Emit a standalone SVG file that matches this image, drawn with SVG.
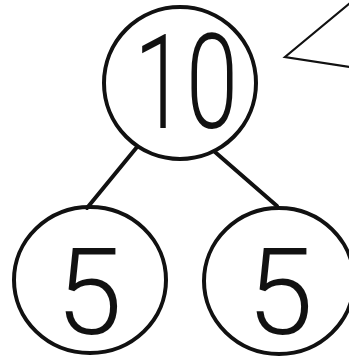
<svg xmlns="http://www.w3.org/2000/svg" width="349" height="363" viewBox="0 0 349 363">
<style>
.node{fill:none;stroke:#111;stroke-width:4}
.edge{stroke:#111;stroke-width:4;fill:none;stroke-linecap:round}
.num{font-family:Roboto,Lato,Inter,"DejaVu Sans",sans-serif;font-weight:300;fill:#111;text-anchor:middle}
.bubble{fill:none;stroke:#111;stroke-width:2.2;stroke-linejoin:miter}
</style>
<rect width="349" height="363" fill="#fff"/>
<g id="connectors">
<line class="edge" x1="137" y1="147" x2="87" y2="208"/>
<line class="edge" x1="215" y1="152" x2="277" y2="206"/>
</g>
<g id="node-10">
<circle class="node" cx="180" cy="83" r="76"/>
<text class="num" x="186" y="128" font-size="132" textLength="104" lengthAdjust="spacingAndGlyphs">10</text>
</g>
<g id="node-5-left">
<ellipse class="node" cx="90" cy="280" rx="76" ry="73"/>
<text class="num" x="89" y="334" font-size="120">5</text>
</g>
<g id="node-5-right">
<ellipse class="node" cx="279" cy="281" rx="75" ry="73"/>
<text class="num" x="280" y="334" font-size="120">5</text>
</g>
<g id="bubble">
<polyline class="bubble" points="350,3 285,57 350,67"/>
</g>
</svg>
